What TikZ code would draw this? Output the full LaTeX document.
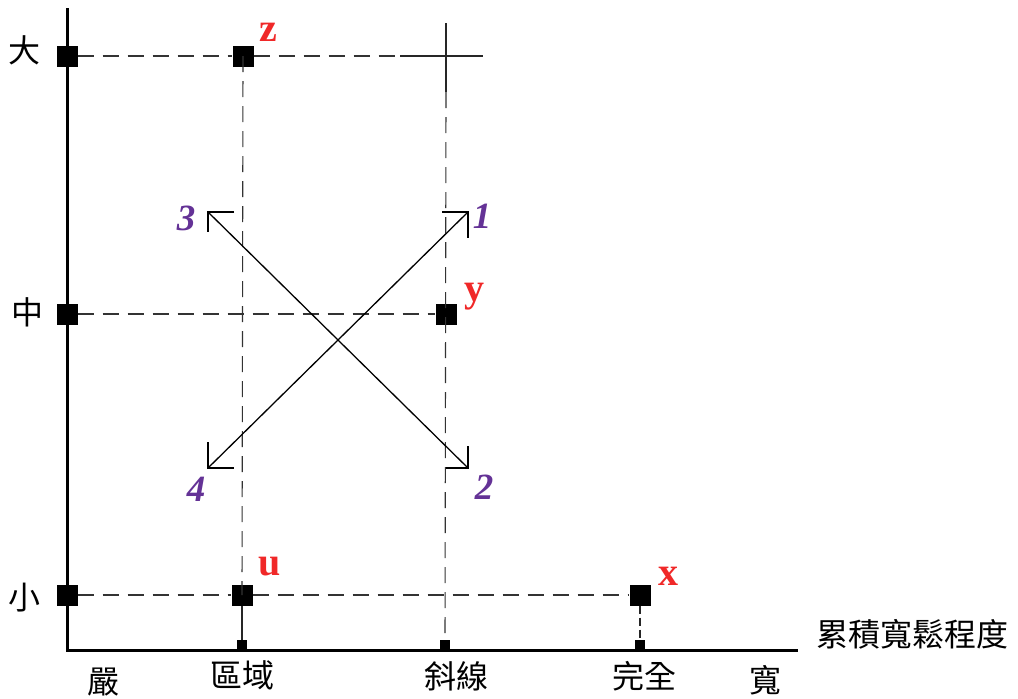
\documentclass[tikz,border=0pt]{standalone}
\usepackage{fontspec}
\newfontfamily\cjk{Noto Sans CJK TC}
\setmainfont{Liberation Serif}
\definecolor{lblred}{RGB}{240,40,40}
\definecolor{lblpurple}{RGB}{100,50,150}
\tikzset{
  axisline/.style={line width=3pt,black},
  guide/.style={line width=1.1pt,black!80,dash pattern=on 16pt off 9pt},
  bigsq/.style={fill=black,minimum size=21pt,inner sep=0pt,draw=none},
  smallsq/.style={fill=black,minimum size=10pt,inner sep=0pt,draw=none},
  cjklbl/.style={font=\cjk\fontsize{32}{32}\selectfont,inner sep=0pt},
  ptlbl/.style={text=lblred,font=\bfseries\fontsize{40}{40}\selectfont,inner sep=0pt},
  numlbl/.style={text=lblpurple,font=\bfseries\itshape\fontsize{37}{37}\selectfont,inner sep=0pt},
  diag/.style={line width=1.3pt,black},
}
\begin{document}
\begin{tikzpicture}[x=1pt,y=-1pt]
\useasboundingbox (0,0) rectangle (1018,699);
% axes
\coordinate (O) at (67,650);
\coordinate (ytop) at (67,8);
\coordinate (xend) at (798,650);
\draw[axisline] (ytop) -- (O) -- (xend);
% y-axis markers
\node[bigsq] (big) at (67,56) {};
\node[bigsq] (mid) at (67,314) {};
\node[bigsq] (small) at (67,595) {};
\node[cjklbl] (lbig) at (25,50) {大};
\node[cjklbl] (lmid) at (28,312) {中};
\node[cjklbl] (lsmall) at (25,598) {小};
% x-axis markers
\node[smallsq] (ax1) at (242,645) {};
\node[smallsq] (ax2) at (445,645) {};
\node[smallsq] (ax3) at (640,645) {};
% points
\node[bigsq] (z) at (243,56) {};
\node[bigsq] (y) at (446,314) {};
\node[bigsq] (u) at (242,595) {};
\node[bigsq] (x) at (640,595) {};
\node[ptlbl] (lz) at (268,32) {z};
\node[ptlbl] (ly) at (474,297) {y};
\node[ptlbl] (lu) at (270,567) {u};
\node[ptlbl] (lx) at (668,576) {x};
% guide lines
\coordinate (h1) at (400,56);
\coordinate (h2) at (483,56);
\coordinate (v1) at (446,23);
\coordinate (v2) at (446,92);
\draw[guide] (big) -- (z);
\draw[guide] (z) -- (h1);
\draw[line width=1.1pt,black!85] (h1) -- (h2);
\draw[line width=1.1pt,black!85] (v1) -- (v2);
\draw[guide] (v2) -- (ax2);
\draw[guide] (z.center) -- (u.center);
\draw[line width=1.1pt,black!85] (u) -- (ax1);
\draw[guide] (mid) -- (y);
\draw[guide] (small) -- (u);
\draw[guide] (u) -- (x);
\draw[line width=1.1pt,black!85,dash pattern=on 8pt off 4pt] (x) -- (ax3);
% diagonals with bracket heads
\coordinate (c3) at (208,212);
\coordinate (c1) at (468,212);
\coordinate (c2) at (468,468);
\coordinate (c4) at (208,468);
\draw[diag] (c3) -- (c2);
\draw[diag] (c4) -- (c1);
\draw[diag] ([xshift=26pt]c3) -- (c3) -- ([yshift=-20pt]c3);
\draw[diag] ([xshift=-26pt]c1) -- (c1) -- ([yshift=-26pt]c1);
\draw[diag] ([xshift=-22pt]c2) -- (c2) -- ([yshift=22pt]c2);
\draw[diag] ([yshift=26pt]c4) -- (c4) -- ([xshift=26pt]c4);
\node[numlbl] (n3) at (186,218) {3};
\node[numlbl] (n1) at (482,216) {1};
\node[numlbl] (n2) at (484,487) {2};
\node[numlbl] (n4) at (196,489) {4};
% axis labels
\node[cjklbl] (xtitle) at (912,634) {累積寬鬆程度};
\node[cjklbl] (l1) at (103,682) {嚴};
\node[cjklbl] (l2) at (242,675) {區域};
\node[cjklbl] (l3) at (456,676) {斜線};
\node[cjklbl] (l4) at (644,676) {完全};
\node[cjklbl] (l5) at (765,680) {寬};
\end{tikzpicture}
\end{document}
